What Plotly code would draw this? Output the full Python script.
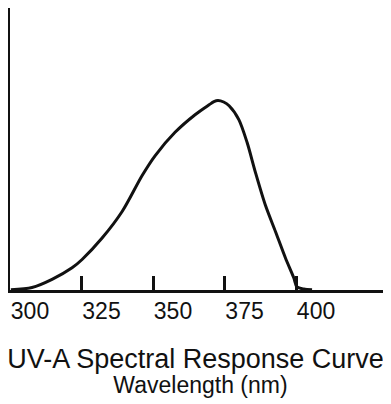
import plotly.graph_objects as go

# Wavelength (nm) and relative spectral response (peak = 1)
wavelength = [300.3, 307.7, 314.7, 321.7, 325.2, 332.2, 339.2, 346.2, 350.7, 357.7,
              364.7, 369.6, 371.3, 372.7, 374.7, 376.6, 380.0, 382.9, 385.8, 389.3,
              392.8, 396.3, 399.2, 400.3, 402.7, 405.6]
response = [0.001, 0.013, 0.056, 0.117, 0.161, 0.274, 0.414, 0.604, 0.708, 0.832,
            0.925, 0.977, 0.994, 1.0, 0.992, 0.972, 0.899, 0.778, 0.621, 0.447,
            0.309, 0.169, 0.065, 0.017, 0.005, 0.001]

tick_values = [300, 325, 350, 375, 400]
tick_labels = ["300", "325", "350", "375", "400"]

title_text = "UV-A Spectral Response Curve"
xaxis_title = "Wavelength (nm)"

FONT = "Liberation Sans, Arial, Helvetica, sans-serif"

# The page body adds an 8px margin, so the figure itself is 383x396.
fig = go.Figure()
fig.add_trace(go.Scatter(
    x=wavelength, y=response, mode="lines",
    line=dict(color="#111111", width=3, shape="spline", smoothing=0.8),
    hoverinfo="x+y", showlegend=False,
))

fig.update_layout(
    width=383, height=396,
    margin=dict(l=2, r=0, t=0, b=113.5),
    paper_bgcolor="white", plot_bgcolor="white",
    font=dict(family=FONT, color="#111111"),
    title=dict(text=title_text, font=dict(size=27, color="#111111"),
               x=0.4896, xref="container", xanchor="center",
               y=1 - 351 / 396, yref="container", yanchor="middle"),
)

fig.update_xaxes(
    range=[300, 433.2], automargin=False,
    tickvals=tick_values, ticktext=tick_labels,
    ticks="inside", ticklen=14, tickwidth=2.5, tickcolor="#111111",
    ticklabelshift=20, ticklabelstandoff=-2,
    tickfont=dict(size=23, color="#111111"),
    showline=True, linewidth=3, linecolor="#111111",
    showgrid=False, zeroline=False,
    title=dict(text=xaxis_title, font=dict(size=23, color="#111111"), standoff=55),
)
fig.update_yaxes(
    range=[0, 1.488], automargin=False,
    showline=True, linewidth=2.5, linecolor="#111111",
    showticklabels=False, ticks="",
    showgrid=False, zeroline=False,
)

fig.write_html("out.html")
